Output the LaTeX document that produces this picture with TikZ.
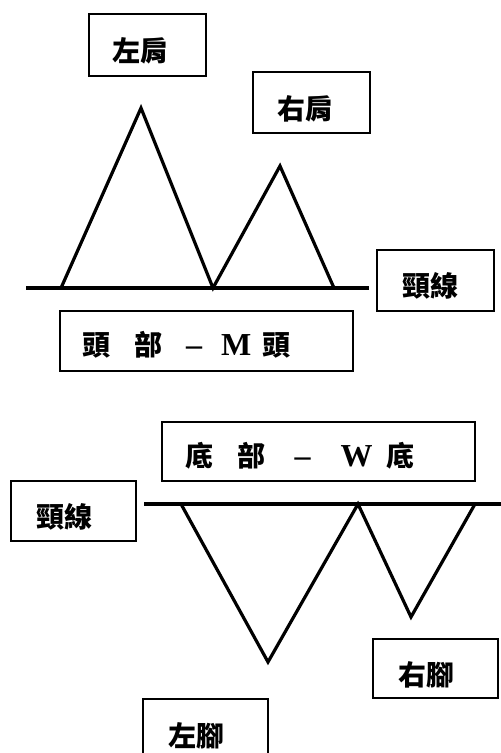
\documentclass[tikz,border=0pt]{standalone}
\usepackage{fontspec}
\setmainfont{Liberation Serif}
\newfontfamily\cjk{Noto Sans CJK TC}
\newcommand{\gl}[2]{\makebox[#1pt]{#2}}
\begin{document}
\begin{tikzpicture}[x=1pt,y=-1pt,
  box/.style={draw, line width=2pt, inner sep=0pt},
  lbl/.style={inner sep=0pt, font=\fontsize{28}{30}\selectfont\cjk\bfseries},
  title/.style={inner sep=0pt, anchor=west, font=\fontsize{32}{34}\selectfont\bfseries},
  cj/.style={},
  chart/.style={line width=3.2pt, line join=miter, miter limit=20},
  neck/.style={line width=3.6pt}]
\useasboundingbox (0,0) rectangle (501,753);
\fill[white] (0,0) rectangle (501,753);

% ---------- top: M head ----------
\node[box, minimum width=117pt, minimum height=62pt] (lsbox) at (147.5,45) {};
\node[lbl] (lstext) at (140,51) {左肩};
\node[box, minimum width=117pt, minimum height=61pt] (rsbox) at (311.5,102.5) {};
\node[lbl] (rstext) at (305,109) {右肩};
\node[box, minimum width=117pt, minimum height=61pt] (nlbox1) at (435.5,280.5) {};
\node[lbl] (nltext1) at (430,286) {頸線};
\node[box, minimum width=293pt, minimum height=60pt] (mbox) at (206.5,341) {};
\node[title] (mtext) at (83,345) {\gl{27}{\fontsize{28}{30}\selectfont\cjk 頭}\hspace{25pt}\gl{27}{\fontsize{28}{30}\selectfont\cjk 部}\hspace{26pt}\gl{12}{–}\hspace{22pt}\gl{28}{M}\hspace{12pt}\gl{28}{\fontsize{28}{30}\selectfont\cjk 頭}};

\coordinate (n1a) at (26,288);
\coordinate (n1b) at (369,288);
\coordinate (m1) at (61,288);
\coordinate (m2) at (141,108);
\coordinate (m3) at (213,288);
\coordinate (m4) at (280,166);
\coordinate (m5) at (334,288);
\draw[neck] (n1a) -- (n1b);
\draw[chart] (m1) -- (m2) -- (m3) -- (m4) -- (m5);

% ---------- bottom: W bottom ----------
\node[box, minimum width=313pt, minimum height=59pt] (wbox) at (318.5,451.5) {};
\node[title] (wtext) at (185,456) {\gl{28}{\fontsize{28}{30}\selectfont\cjk 底}\hspace{22pt}\gl{32}{\fontsize{28}{30}\selectfont\cjk 部}\hspace{30pt}\gl{11}{–}\hspace{32pt}\gl{33}{W}\hspace{14pt}\gl{26}{\fontsize{28}{30}\selectfont\cjk 底}};
\node[box, minimum width=125pt, minimum height=60pt] (nlbox2) at (73.5,511) {};
\node[lbl] (nltext2) at (64,517) {頸線};
\node[box, minimum width=125pt, minimum height=59pt] (rfbox) at (435.5,668.5) {};
\node[lbl] (rftext) at (426,675) {右腳};
\node[box, minimum width=125pt, minimum height=60pt] (lfbox) at (205.5,728.5) {};
\node[lbl] (lftext) at (196,736) {左腳};

\coordinate (n2a) at (144,504);
\coordinate (n2b) at (503,504);
\coordinate (w1) at (181,504);
\coordinate (w2) at (268,662);
\coordinate (w3) at (358,504);
\coordinate (w4) at (411,617);
\coordinate (w5) at (475,504);
\draw[neck] (n2a) -- (n2b);
\draw[chart] (w1) -- (w2) -- (w3) -- (w4) -- (w5);
\end{tikzpicture}
\end{document}
